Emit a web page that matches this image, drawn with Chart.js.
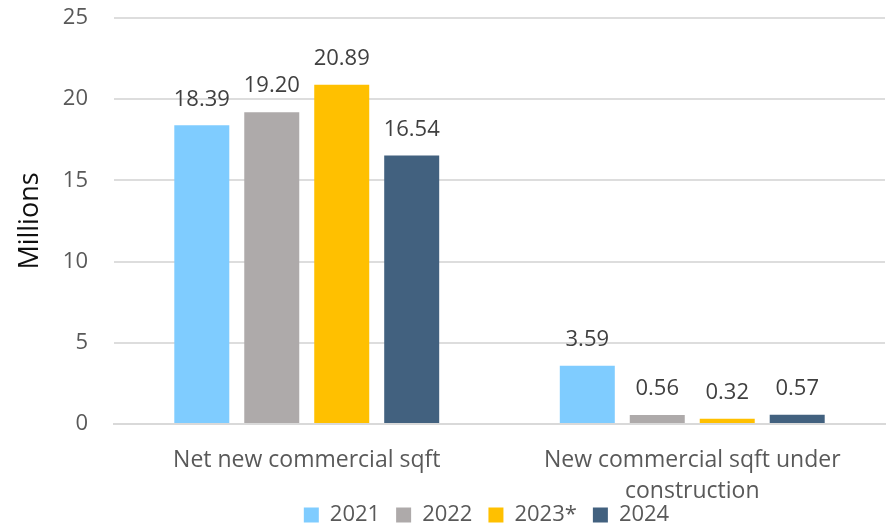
<!DOCTYPE html>
<html>
<head>
<meta charset="utf-8">
<script src="https://cdn.jsdelivr.net/npm/chart.js@4/dist/chart.umd.min.js"></script>
<style>
html,body{margin:0;padding:0;background:#fff;}
#wrap{width:892px;height:529px;}
</style>
</head>
<body>
<div id="wrap"><canvas id="c" width="892" height="529"></canvas></div>
<script>
const categories = ["Net new commercial sqft", ["New commercial sqft under", "construction"]];
const seriesNames = ["2021", "2022", "2023*", "2024"];
const values2021 = [18.39, 3.59];
const values2022 = [19.20, 0.56];
const values2023 = [20.89, 0.32];
const values2024 = [16.54, 0.57];
const yTicks = [0, 5, 10, 15, 20, 25];

const colors = ["#7FCCFF", "#AEAAAA", "#FFC000", "#42617F"];
const FONT = "'Open Sans', 'Noto Sans', sans-serif";

const labelPlugin = {
  id: 'valueLabels',
  afterDatasetsDraw(chart) {
    const ctx = chart.ctx;
    ctx.save();
    ctx.font = "22px " + FONT;
    ctx.fillStyle = "#404040";
    ctx.textAlign = "center";
    ctx.textBaseline = "middle";
    chart.data.datasets.forEach((ds, i) => {
      const meta = chart.getDatasetMeta(i);
      meta.data.forEach((bar, j) => {
        ctx.fillText(ds.data[j].toFixed(2), bar.x, bar.y - 26);
      });
    });
    ctx.restore();
  }
};

const legendShift = {
  id: 'legendShift',
  afterLayout(chart) {
    const L = chart.legend;
    if (L) { L.left += 44; L.right += 44; }
  }
};

new Chart(document.getElementById('c'), {
  type: 'bar',
  data: {
    labels: categories,
    datasets: [
      { label: seriesNames[0], data: values2021, backgroundColor: colors[0] },
      { label: seriesNames[1], data: values2022, backgroundColor: colors[1] },
      { label: seriesNames[2], data: values2023, backgroundColor: colors[2] },
      { label: seriesNames[3], data: values2024, backgroundColor: colors[3] }
    ]
  },
  options: {
    responsive: false,
    animation: false,
    devicePixelRatio: 1,
    layout: { padding: { left: 0, right: 7, top: 18, bottom: -7 } },
    datasets: { bar: { categoryPercentage: 0.726, barPercentage: 0.786 } },
    plugins: {
      legend: {
        position: 'bottom',
        labels: {
          font: { family: FONT, size: 22 },
          color: '#595959',
          boxWidth: 15,
          boxHeight: 15,
          padding: 16
        }
      },
      tooltip: { enabled: false }
    },
    scales: {
      x: {
        afterFit(scale) {
          scale.height = 64; scale.paddingLeft = 0; scale.paddingRight = 0;
          scale._computeLabelArea = function () { return undefined; };
        },
        grid: { display: false, drawTicks: false },
        border: { display: true, color: '#D9D9D9', width: 2 },
        ticks: { font: { family: FONT, size: 23, lineHeight: 1.35 }, color: '#595959', padding: 21, maxRotation: 0, autoSkip: false }
      },
      y: {
        min: 0, max: 25,
        afterBuildTicks(scale) { scale.ticks = yTicks.map(v => ({ value: v })); },
        afterFit(scale) { scale.width = 114; scale.paddingTop = 0; scale.paddingBottom = 0; },
        grid: { color: '#DDDDDD', lineWidth: 2, drawTicks: false },
        border: { display: false },
        ticks: { font: { family: FONT, size: 22 }, color: '#595959', padding: 26 },
        title: { display: true, text: 'Millions', font: { family: FONT, size: 27 }, color: '#111111', padding: { top: 14, bottom: 0 } }
      }
    }
  },
  plugins: [labelPlugin, legendShift]
});
</script>
</body>
</html>
